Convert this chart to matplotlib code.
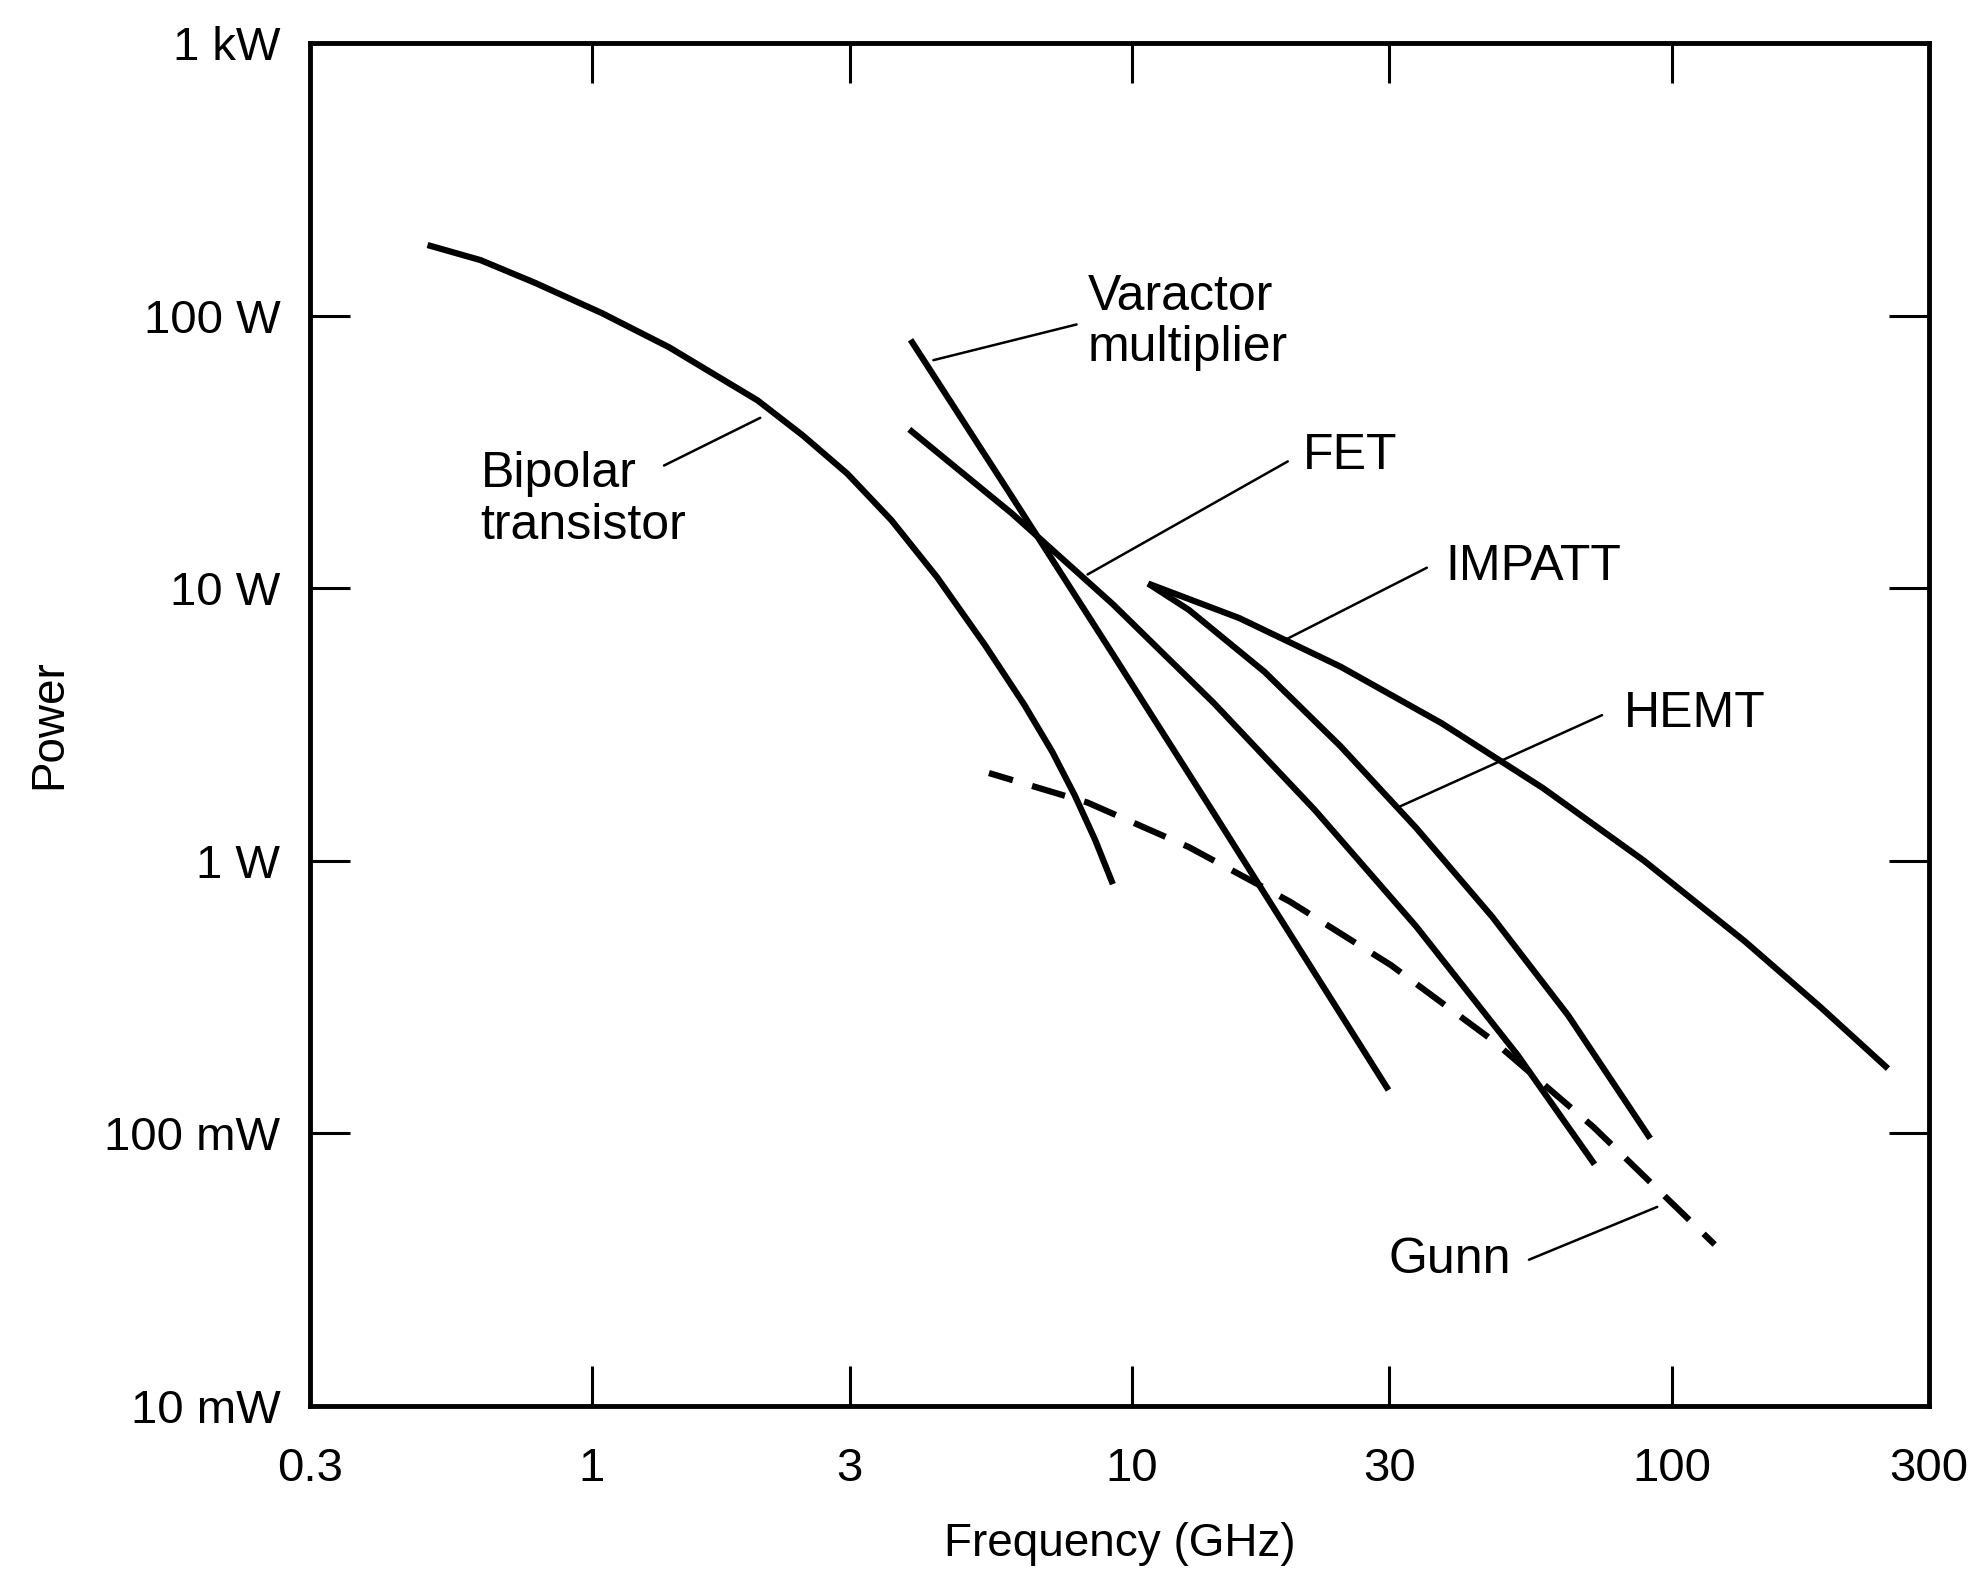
import matplotlib
matplotlib.use("Agg")
import matplotlib.pyplot as plt

plt.rcParams['font.family'] = ['Liberation Sans', 'DejaVu Sans']

# frequency in GHz, power in W
bipolar_f = [0.496, 0.622, 0.785, 1.044, 1.390, 2.027, 2.461, 2.973, 3.589, 4.358,
             5.350, 6.323, 7.119, 7.846, 8.553, 9.224]
bipolar_p = [181.8, 160.0, 132.0, 102.2, 76.6, 48.9, 36.3, 26.3, 17.74, 10.97,
             6.17, 3.733, 2.515, 1.731, 1.191, 0.820]

varactor_f = [3.892, 5.992, 9.224, 14.20, 21.86, 29.88]
varactor_p = [81.6, 21.73, 5.721, 1.490, 0.3842, 0.1439]

fet_f = [3.871, 5.992, 9.224, 14.20, 21.86, 33.65, 51.81, 71.96]
fet_p = [38.27, 18.83, 8.734, 3.781, 1.529, 0.5728, 0.1936, 0.0768]

impatt_f = [10.72, 15.82, 24.35, 37.48, 57.69, 88.82, 136.7, 188.9, 251.5]
impatt_p = [10.40, 7.766, 5.154, 3.195, 1.849, 1.000, 0.5051, 0.2892, 0.1725]

hemt_f = [10.72, 12.75, 17.62, 24.35, 33.65, 46.50, 64.27, 91.25]
hemt_p = [10.40, 8.332, 4.928, 2.630, 1.317, 0.6226, 0.2707, 0.0956]

gunn_f = [5.437, 8.279, 12.75, 19.62, 30.21, 46.50, 71.58, 120.1]
gunn_p = [2.097, 1.634, 1.122, 0.7076, 0.4133, 0.2196, 0.1054, 0.0390]

x_ticks = [0.3, 1, 3, 10, 30, 100, 300]
x_labels = ['0.3', '1', '3', '10', '30', '100', '300']
y_ticks = [0.01, 0.1, 1, 10, 100, 1000]
y_labels = ['10 mW', '100 mW', '1 W', '10 W', '100 W', '1 kW']

# label text, text anchor (f, P), leader start on curve, leader end near text
labels = [
    ("Bipolar\ntransistor", (0.622, 21.05), (1.36, 28.2), (2.05, 42.2)),
    ("Varactor\nmultiplier", (8.28, 94.3), (4.29, 68.7), (7.90, 92.9)),
    ("FET", (20.7, 30.6), (8.28, 11.23), (19.45, 29.2)),
    ("IMPATT", (38.1, 11.96), (19.34, 6.50), (35.2, 11.89)),
    ("HEMT", (81.5, 3.46), (31.0, 1.564), (74.3, 3.42)),
    ("Gunn", (29.9, 0.0341), (94.0, 0.0536), (54.4, 0.0343)),
]

fig = plt.figure(figsize=(19.81, 15.80), dpi=100)
ax = fig.add_axes([0.1563, 0.1104, 0.9739 - 0.1563, 0.9726 - 0.1104])

lw = 4.5
for f, p in [(bipolar_f, bipolar_p), (varactor_f, varactor_p), (fet_f, fet_p),
             (impatt_f, impatt_p), (hemt_f, hemt_p)]:
    ax.plot(f, p, color='black', lw=lw, solid_capstyle='butt', solid_joinstyle='round')
ax.plot(gunn_f, gunn_p, color='black', lw=lw, linestyle=(1.5, (5.5, 3.2)))

for text, pos, a, b in labels:
    ax.text(pos[0], pos[1], text, fontsize=36, ha='left', va='center', linespacing=1.15)
    ax.annotate('', xy=a, xytext=b,
                arrowprops=dict(arrowstyle='-', lw=1.8, color='black',
                                shrinkA=0, shrinkB=0))

ax.set_xscale('log')
ax.set_yscale('log')
ax.set_xlim(0.3, 300)
ax.set_ylim(0.01, 1000)
ax.set_xticks(x_ticks)
ax.set_xticklabels(x_labels)
ax.set_yticks(y_ticks)
ax.set_yticklabels(y_labels)
ax.minorticks_off()
ax.tick_params(direction='in', length=29, width=2.2, labelsize=34,
               top=True, right=True)
ax.tick_params(axis='x', pad=30)
ax.tick_params(axis='y', pad=21)
for s in ax.spines.values():
    s.set_linewidth(3.5)

ax.set_xlabel('Frequency (GHz)', fontsize=33, labelpad=22)
ax.set_ylabel('Power', fontsize=33, labelpad=24)

fig.savefig('out.png', dpi=100)
